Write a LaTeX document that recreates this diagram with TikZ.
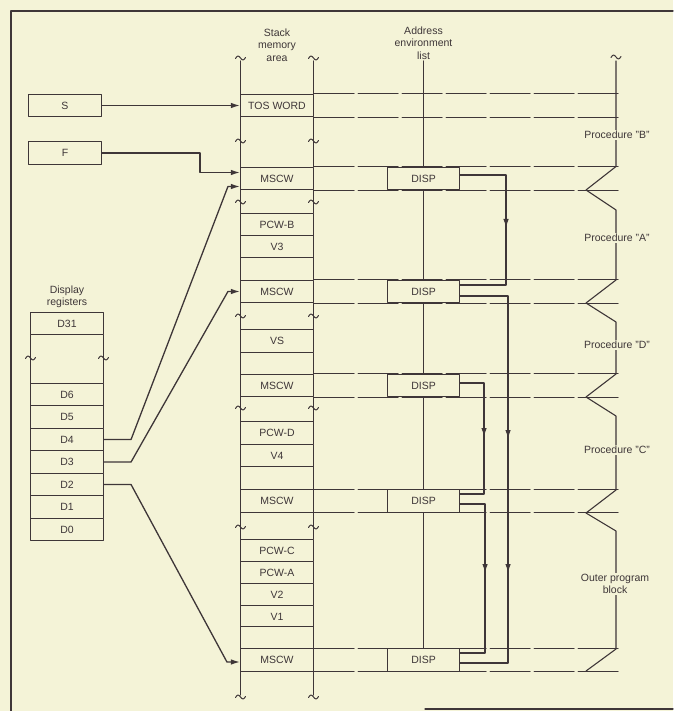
\documentclass[tikz,border=0pt]{standalone}
\usepackage{fontspec}
\setmainfont{Liberation Sans}
\usetikzlibrary{arrows.meta,decorations.markings}
\definecolor{ink}{RGB}{62,54,56}
\definecolor{paper}{RGB}{244,243,215}
\begin{document}
\begin{tikzpicture}[x=1pt,y=-1pt,line join=round,line cap=round,draw=ink,text=ink,line width=1.1pt,
		font=\fontsize{10.5}{12.5}\selectfont,
		cell/.style={draw=ink,fill=paper,minimum width=73pt,minimum height=22.5pt,inner sep=0pt},
		lbl/.style={align=center,inner sep=1pt},
		ptr/.style={-{Latex[length=9pt,width=5.5pt]},line width=1.3pt},
		rowline/.style={dash pattern=on 40pt off 4pt,line width=1pt},
		tipat/.style={decoration={markings,mark=at position #1 with {\arrow{Latex[length=9pt,width=5.5pt]}}},postaction={decorate}},
		tipsat/.style 2 args={decoration={markings,mark=at position #1 with {\arrow{Latex[length=9pt,width=5.5pt]}},mark=at position #2 with {\arrow{Latex[length=9pt,width=5.5pt]}}},postaction={decorate}}]
			\useasboundingbox[fill=paper] (0,0) rectangle (673,711);
			\draw[line width=1.3pt] (11,711)--(11,11)--(673,11) (425,709)--(673,709);
			\node[lbl] (stk) at (277,45) {Stack\\memory\\area};
			\node[lbl] (addr) at (423.5,43) {Address\\environment\\list};
			\node[lbl] (dsp) at (67,297) {Display\\registers};
			\draw[line width=1.3pt] (240.5,61)--(240.5,695) (313.5,61)--(313.5,695);
			\foreach \y/\t/\n in {105.5/TOS WORD/tos,178.5/MSCW/m1,224.5/PCW-B/pcwb,247/V3/v3,269//e1,291.5/MSCW/m2,341/VS/vs,363.5//e2,385.5/MSCW/m3,433/PCW-D/pcwd,455.5/V4/v4,478//e3,501/MSCW/m4,550.5/PCW-C/pcwc,572.5/PCW-A/pcwa,594.5/V2/v2,616.5/V1/v1,638//e4,660/MSCW/m5}
			\node[cell] (\n) at (277,\y) {\t};
			\draw (30.5,335)--(30.5,383) (103.5,335)--(103.5,383);
			\foreach \y/\t/\n in {323.5/D31/d31,394.5/D6/d6,417/D5/d5,439.5/D4/d4,462/D3/d3,484.5/D2/d2,507/D1/d1,529.5/D0/d0}
			\node[cell] (\n) at (67,\y) {\t};
			\node[cell] (s) at (65,105.5) {S};
			\node[cell] (f) at (65,153) {F};
			\coordinate (rim) at (622,0);
			\foreach \n in {tos,m1,m2,m3,m4,m5}
			\draw[rowline] (\n.north east) -- (\n.north east -| rim) (\n.south east) -- (\n.south east -| rim);
			\foreach \n in {1,...,5}
			\node[cell,minimum width=72pt] (disp\n) at (addr |- m\n) {DISP};
			\draw (addr.south) -- (disp1.north);
			\foreach \a/\b in {1/2,2/3,3/4,4/5}
			\draw (disp\a.south) -- (disp\b.north);
			\draw (616,61) -- (616,166.5) -- (586,190) -- (616,210) -- (616,280) -- (586,303) -- (616,322) -- (616,374) -- (586,397) -- (616,416) -- (616,490) -- (586,513) -- (616,531) -- (616,649) -- (586,671);
			\foreach \y/\t/\n in {135/B/pb,238/A/pa,345/D/pd,450/C/pc}
			\node[lbl,fill=paper] (\n) at (617,\y) {Procedure "\t"};
			\node[lbl,fill=paper] (outer) at (615,584) {Outer program\\block};
			\foreach \x/\y in {240.5/58,313.5/58,240.5/141,313.5/141,240.5/202,313.5/202,240.5/316,313.5/316,240.5/408,313.5/408,240.5/527,313.5/527,240.5/697,313.5/697,30.5/358,103.5/358,616/57}
			\draw[line width=1pt] (\x-5,\y+0.5) sin (\x-2.5,\y-2) cos (\x,\y) sin (\x+2.5,\y+2) cos (\x+5,\y-0.5);
			\draw[ptr] (s) -- (tos);
			\draw[ptr] (f.east) -- ++(98,0) |- ([yshift=6pt]m1.west);
			\draw[ptr] (d4.east) -- ++(27,0) -- ([xshift=-12pt,yshift=-8pt]m1.west) -- ([yshift=-8pt]m1.west);
			\draw[ptr] (d3.east) -- ++(27,0) -- ([xshift=-12pt]m2.west) -- (m2.west);
			\draw[ptr] (d2.east) -- ++(27,0) -- ([xshift=-13pt,yshift=-2pt]m5.west) -- ([yshift=-2pt]m5.west);
			\draw[tipat=99pt,line width=1.3pt] ([yshift=3.5pt]disp1.east) -- ++(46,0) |- ([yshift=6.5pt]disp2.east);
			\draw[tipsat={191pt}{325pt},line width=1.3pt] ([yshift=-4.5pt]disp2.east) -- ++(48,0) |- ([yshift=-3pt]disp5.east);
			\draw[tipat=78pt,line width=1.3pt] ([yshift=2.5pt]disp3.east) -- ++(24,0) |- ([yshift=7pt]disp4.east);
			\draw[tipat=94pt,line width=1.3pt] ([yshift=-3pt]disp4.east) -- ++(25,0) |- ([yshift=7pt]disp5.east);
		\end{tikzpicture}
\end{document}
